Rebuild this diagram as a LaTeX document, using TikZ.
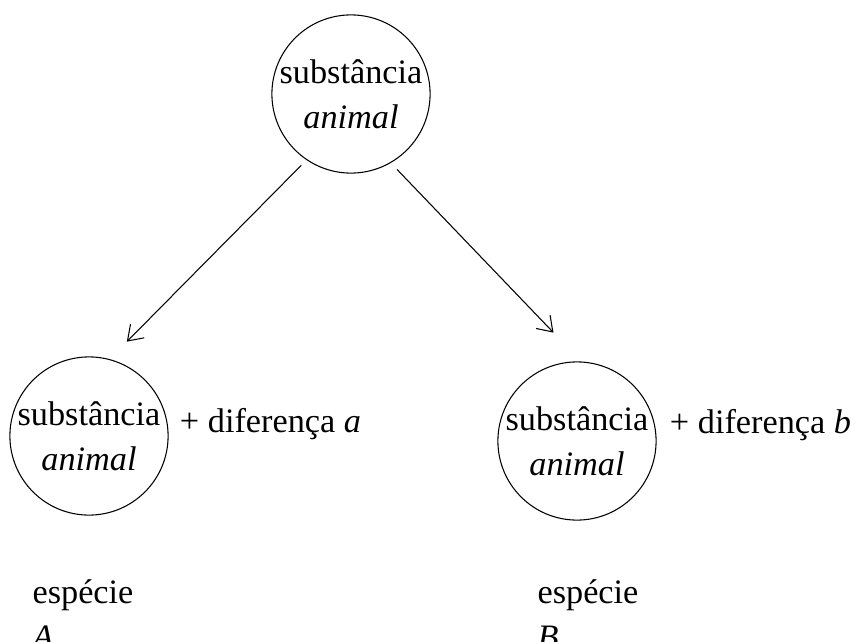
\documentclass[tikz,border=0pt]{standalone}
\usepackage{fontspec}
\setmainfont{Liberation Serif}
\usepackage{tikz}
\usetikzlibrary{arrows.meta, positioning}

\begin{document}
\begin{tikzpicture}[
  node distance=0.2cm and 0.2cm,
  substance/.style={draw, circle, line width=0.6pt, minimum size=3.15cm, inner sep=0pt, align=center, font=\fontsize{19.5}{25.5}\selectfont},
  extra/.style={font=\fontsize{19.5}{25.5}\selectfont, inner sep=0pt},
  species/.style={align=left, font=\fontsize{19.5}{25.5}\selectfont, inner sep=0pt},
  arrow/.style={-{Straight Barb[length=8pt, width=11pt]}, line width=0.6pt},
]
\useasboundingbox (0,0) rectangle (17.22,-12.84);

% Nodes
\node[substance] (genus) at (7.02,-1.88) {substância\\\textit{animal}};
\node[substance] (left) at (1.78,-8.72) {substância\\\textit{animal}};
\node[substance] (right) at (11.54,-8.82) {substância\\\textit{animal}};

% Differences
\node[extra, right=0.22cm of left, yshift=0.24cm] (diffa) {+ diferença \textit{a}};
\node[extra, right=0.26cm of right, yshift=0.32cm] (diffb) {+ diferença \textit{b}};

% Species
\node[species, below=1.28cm of left, xshift=-0.12cm] (speciesA) {espécie\\\textit{A}};
\node[species, below=1.18cm of right, xshift=0.22cm] (speciesB) {espécie\\\textit{B}};

% Arrows
\draw[arrow, shorten <=0.15cm, shorten >=0.49cm] (genus.236) -- (left.75);
\draw[arrow, shorten <=0.18cm, shorten >=0.8cm] (genus.300) -- (right.87);

\end{tikzpicture}
\end{document}
